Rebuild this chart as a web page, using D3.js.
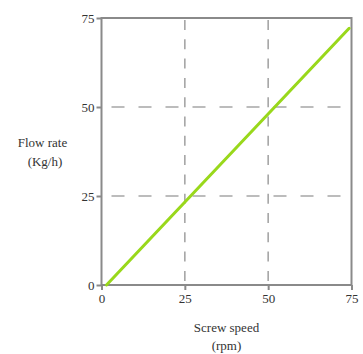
<!DOCTYPE html>
<html>
<head>
<meta charset="utf-8">
<script src="https://cdn.jsdelivr.net/npm/d3@7"></script>
<style>
  html, body { margin: 0; padding: 0; background: #fff; }
  svg { display: block; }
  text { font-family: "Liberation Serif", "Times New Roman", serif; fill: #333; }
</style>
</head>
<body>
<svg id="chart" width="363" height="354"></svg>
<script>
// Screw speed (rpm) vs. flow rate (Kg/h)
const screwSpeed = [1.5, 74.3];
const flowRate = [0, 72.1];
const xTicks = [0, 25, 50, 75];
const yTicks = [0, 25, 50, 75];
const yTitleLines = ["Flow rate", "(Kg/h)"];
const xTitleLines = ["Screw speed", "(rpm)"];

const svg = d3.select("#chart");
const margin = { left: 101.5, right: 11.5, top: 18, bottom: 69 };
const W = 363, H = 354;
const x = d3.scaleLinear().domain([0, 75]).range([margin.left, W - margin.right]);
const y = d3.scaleLinear().domain([0, 75]).range([H - margin.bottom, margin.top]);

const gridColor = "#a6a6a6";
const axisColor = "#8a8a8a";

// dashed grid: horizontal lines run left to right, vertical ones top to bottom
svg.append("g").selectAll("line")
  .data(yTicks.filter(d => d > 0 && d < 75))
  .join("line")
  .attr("x1", x(0)).attr("x2", x(75))
  .attr("y1", d => y(d)).attr("y2", d => y(d))
  .attr("stroke", gridColor).attr("stroke-width", 1.6)
  .attr("stroke-dasharray", "13,14").attr("stroke-dashoffset", 17);

svg.append("g").selectAll("line")
  .data(xTicks.filter(d => d > 0 && d < 75))
  .join("line")
  .attr("x1", d => x(d)).attr("x2", d => x(d))
  .attr("y1", y(75)).attr("y2", y(0))
  .attr("stroke", gridColor).attr("stroke-width", 1.6)
  .attr("stroke-dasharray", "10,9.3").attr("stroke-dashoffset", 17.3);

// frame
svg.append("rect")
  .attr("x", x(0)).attr("y", y(75))
  .attr("width", x(75) - x(0)).attr("height", y(0) - y(75))
  .attr("fill", "none").attr("stroke", axisColor).attr("stroke-width", 2);

// axes
const xAxis = svg.append("g")
  .attr("transform", `translate(0,${y(0)})`)
  .call(d3.axisBottom(x).tickValues(xTicks).tickSize(5).tickPadding(4));
const yAxis = svg.append("g")
  .attr("transform", `translate(${x(0)},0)`)
  .call(d3.axisLeft(y).tickValues(yTicks).tickSize(5).tickPadding(2));

[xAxis, yAxis].forEach(g => {
  g.select(".domain").remove();
  g.selectAll(".tick line").attr("stroke", axisColor).attr("stroke-width", 2);
  g.selectAll(".tick text")
    .style("font-family", '"Liberation Serif", serif')
    .style("font-size", "13px").attr("fill", "#333");
});

// data line
svg.append("path")
  .datum(screwSpeed.map((s, i) => [s, flowRate[i]]))
  .attr("d", d3.line().x(d => x(d[0])).y(d => y(d[1])))
  .attr("fill", "none").attr("stroke", "#99d81b").attr("stroke-width", 3)
  .attr("stroke-linecap", "round");

// axis titles
svg.append("g").selectAll("text")
  .data(yTitleLines).join("text")
  .attr("x", (d, i) => i === 0 ? 42.5 : 45)
  .attr("y", (d, i) => 147 + i * 19)
  .attr("text-anchor", "middle")
  .style("font-size", "13px")
  .text(d => d);

svg.append("g").selectAll("text")
  .data(xTitleLines).join("text")
  .attr("x", 226.5)
  .attr("y", (d, i) => 332 + i * 18)
  .attr("text-anchor", "middle")
  .style("font-size", "13px")
  .text(d => d);
</script>
</body>
</html>
